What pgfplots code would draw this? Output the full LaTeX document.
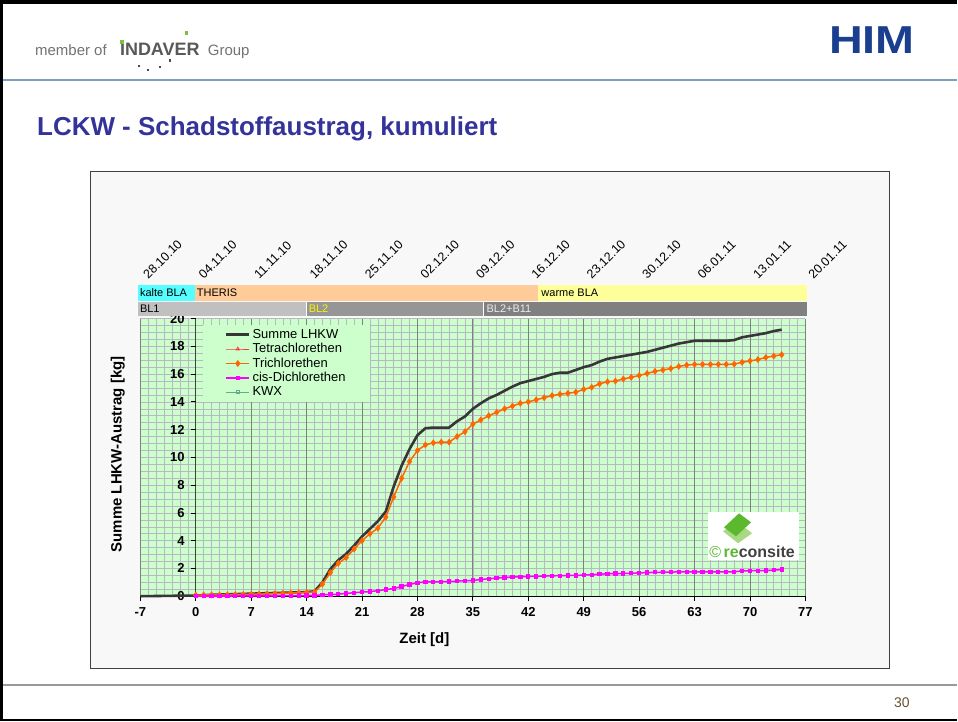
\documentclass[border=0pt]{standalone}
\usepackage{pgfplots}
\pgfplotsset{compat=1.18}
\usepackage{fontspec}
\setmainfont{Liberation Sans}
\definecolor{plotbg}{HTML}{CCFFCC}
\definecolor{gridminor}{HTML}{B8B8C4}
\definecolor{gridmajor}{HTML}{808080}
\definecolor{summe}{HTML}{363636}
\definecolor{tri}{HTML}{FF6600}
\definecolor{cis}{HTML}{FF00FF}
\definecolor{tetra}{HTML}{FF3333}
\definecolor{kwx}{HTML}{66AA88}
\definecolor{titleblue}{HTML}{333399}
\definecolor{himblue}{HTML}{1B3F8F}
\definecolor{topline}{HTML}{7F9FBF}
\definecolor{framebg}{HTML}{F8F8F8}
\definecolor{kalt}{HTML}{55FFFF}
\definecolor{theris}{HTML}{FFCC99}
\definecolor{warm}{HTML}{FFFF99}
\definecolor{blA}{HTML}{C0C0C0}
\definecolor{blB}{HTML}{969696}
\definecolor{blC}{HTML}{808080}
\definecolor{indgreen}{HTML}{7AC142}
\definecolor{recgreen}{HTML}{5CB82E}
\definecolor{recshadow}{HTML}{A8D880}
\definecolor{pagenum}{HTML}{6A5030}
\begin{document}
\begin{tikzpicture}[x=1pt,y=1pt]
% page
\path[fill=white] (0,0) rectangle (958,722);
\fill[black] (0,718) rectangle (958,722);
\fill[black] (0,0) rectangle (3,722);
\fill[black] (0,0) rectangle (958,2);
% header
\node[anchor=base west, inner sep=0, text=black!55, font=\fontsize{15}{15}\selectfont] at (35,666) {member of};
\node[anchor=base west, inner sep=0, text=black!65, font=\fontsize{18}{18}\selectfont\bfseries] at (120,666) {INDAVER};
\node[anchor=base west, inner sep=0, text=black!55, font=\fontsize{15}{15}\selectfont] at (208,666) {Group};
\fill[indgreen] (120.5,678) rectangle (124,681.5);
\fill[indgreen] (185,687) rectangle (188.5,690.5);
\fill[black!70] (138,655) rectangle (140,657);
\fill[black!70] (147,651) rectangle (149,653);
\fill[black!70] (159,654) rectangle (161,656);
\fill[black!70] (169,660) rectangle (171.5,662.5);
\node[inner sep=0, text=himblue, font=\fontsize{39}{39}\selectfont\bfseries, xscale=1.2] at (873,682) {HIM};
\draw[line width=2.5pt, topline] (3,642) -- (958,642);
% title
\node[anchor=base west, inner sep=0, text=titleblue, font=\fontsize{26}{26}\selectfont\bfseries] at (37,586) {LCKW - Schadstoffaustrag, kumuliert};
% footer
\draw[line width=1.5pt, black!40] (3,36) -- (958,36);
\node[inner sep=0, text=pagenum, font=\fontsize{14}{14}\selectfont] at (903,18) {30};
% chart frame
\draw[fill=framebg, draw=black!75] (90,53) rectangle (890,551);
% axis
\begin{axis}[
  at={(196pt,125pt)}, anchor=origin,
  scale only axis, width=666pt, height=278pt,
  xmin=-7, xmax=77, ymin=0, ymax=20,
  axis background/.style={fill=plotbg},
  xtick={-7,0,7,14,21,28,35,42,49,56,63,70,77},
  xticklabels={-7,0,7,14,21,28,35,42,49,56,63,70,77},
  ytick={0,2,4,6,8,10,12,14,16,18,20},
  yticklabels={0,2,4,6,8,10,12,14,16,18,20},
  minor x tick num=6, minor y tick num=3,
  grid=both,
  major grid style={gridminor, line width=0.6pt},
  minor grid style={gridminor, line width=0.6pt},
  axis x line*=bottom, axis y line*=left,
  x axis line style={black, line width=0.8pt, -},
  y axis line style={draw=none},
  tick align=outside, major tick length=5pt,
  xtick style={black, line width=0.8pt},
  ytick style={draw=none},
  minor tick length=0pt,
  ticklabel style={font=\fontsize{13}{13}\selectfont\bfseries},
  xticklabel style={inner sep=0pt, yshift=-6pt},
  yticklabel style={inner sep=0pt, anchor=east, xshift=49.5pt},
  xlabel={Zeit [d]},
  xlabel style={at={(axis description cs:0.427,-0.158)}, anchor=center, font=\fontsize{15}{15}\selectfont\bfseries},
  ylabel={Summe LHKW-Austrag [kg]},
  ylabel style={at={(axis description cs:-0.034,0.511)}, anchor=center, font=\fontsize{15}{15}\selectfont\bfseries},
  clip=false,
  legend cell align=left,
  legend style={at={(axis description cs:0.094,0.978)}, anchor=north west, fill=plotbg, draw=none,
    font=\fontsize{13}{13}\selectfont, inner xsep=22pt, inner ysep=3pt, row sep=0.6pt,
    nodes={inner ysep=1.5pt}},
  legend image code/.code={\draw[mark repeat=2, mark phase=2, #1] plot coordinates {(0pt,0pt) (11.5pt,0pt) (23pt,0pt)};},
]
% darker weekly verticals and y-axis at day 0
\pgfplotsinvokeforeach{-7,0,7,14,21,28,35,42,49,56,63,70,77}{
  \draw[gridmajor, line width=0.8pt] (axis cs:#1,0) -- (axis cs:#1,20);
}
\draw[black!75, line width=1pt] (axis cs:0,0) -- (axis cs:0,20);
\pgfplotsinvokeforeach{0,2,4,6,8,10,12,14,16,18,20}{
  \draw[black, line width=0.8pt] (axis cs:0,#1) -- ++(-5pt,0pt);
}
\addplot[summe, line width=2.6pt, no markers] coordinates {
(-7,0)(0,0.05)(2,0.1)(5,0.15)(8,0.2)(11,0.25)(14,0.3)(15,0.35)(16,1.0)(17,1.95)(18,2.6)(19,3.05)(20,3.65)(21,4.3)(22,4.85)(23,5.4)(24,6.1)(25,7.9)(26,9.4)(27,10.6)(28,11.6)(29,12.1)(30,12.15)(31,12.15)(32,12.15)(33,12.6)(34,12.95)(35,13.5)(36,13.9)(37,14.25)(38,14.5)(39,14.8)(40,15.1)(41,15.35)(42,15.5)(43,15.65)(44,15.8)(45,16.0)(46,16.1)(47,16.1)(48,16.3)(49,16.5)(50,16.65)(51,16.9)(52,17.1)(53,17.2)(54,17.3)(55,17.4)(56,17.5)(57,17.6)(58,17.75)(59,17.9)(60,18.05)(61,18.2)(62,18.3)(63,18.4)(67,18.4)(68,18.45)(69,18.65)(70,18.75)(71,18.85)(72,18.95)(73,19.1)(74,19.2)
};
\addlegendentry{Summe LHKW}
\addlegendimage{tetra, line width=0.8pt, mark=triangle, mark size=1.8pt, mark options={solid}}
\addlegendentry{Tetrachlorethen}
\addplot[tri, line width=1.5pt, mark=diamond*, mark size=2.3pt] coordinates {
(0,0.08)(1,0.09)(2,0.10)(3,0.10)(4,0.11)(5,0.12)(6,0.13)(7,0.14)(8,0.15)(9,0.17)(10,0.19)(11,0.21)(12,0.23)(13,0.25)(14,0.28)(15,0.30)(16,0.87)(17,1.70)(18,2.37)(19,2.78)(20,3.40)(21,4.00)(22,4.50)(23,4.90)(24,5.70)(25,7.15)(26,8.50)(27,9.70)(28,10.50)(29,10.90)(30,11.05)(31,11.10)(32,11.10)(33,11.50)(34,11.85)(35,12.40)(36,12.70)(37,13.00)(38,13.25)(39,13.50)(40,13.70)(41,13.90)(42,14.00)(43,14.15)(44,14.30)(45,14.45)(46,14.55)(47,14.62)(48,14.70)(49,14.90)(50,15.05)(51,15.30)(52,15.45)(53,15.50)(54,15.65)(55,15.77)(56,15.90)(57,16.05)(58,16.20)(59,16.30)(60,16.40)(61,16.55)(62,16.65)(63,16.70)(64,16.70)(65,16.70)(66,16.70)(67,16.70)(68,16.72)(69,16.85)(70,16.95)(71,17.05)(72,17.20)(73,17.30)(74,17.40)
};
\addlegendentry{Trichlorethen}
\addplot[cis, line width=1.5pt, mark=square*, mark size=1.4pt] coordinates {
(0,0.00)(1,0.00)(2,0.01)(3,0.01)(4,0.01)(5,0.02)(6,0.02)(7,0.02)(8,0.03)(9,0.03)(10,0.03)(11,0.04)(12,0.04)(13,0.05)(14,0.05)(15,0.06)(16,0.10)(17,0.12)(18,0.15)(19,0.20)(20,0.25)(21,0.30)(22,0.33)(23,0.40)(24,0.48)(25,0.55)(26,0.70)(27,0.85)(28,0.97)(29,1.03)(30,1.04)(31,1.04)(32,1.05)(33,1.09)(34,1.11)(35,1.14)(36,1.20)(37,1.26)(38,1.30)(39,1.35)(40,1.38)(41,1.40)(42,1.42)(43,1.43)(44,1.45)(45,1.47)(46,1.48)(47,1.49)(48,1.50)(49,1.52)(50,1.55)(51,1.58)(52,1.62)(53,1.63)(54,1.64)(55,1.66)(56,1.68)(57,1.70)(58,1.72)(59,1.73)(60,1.74)(61,1.75)(62,1.75)(63,1.75)(64,1.75)(65,1.75)(66,1.75)(67,1.75)(68,1.76)(69,1.82)(70,1.84)(71,1.84)(72,1.85)(73,1.88)(74,1.92)
};
\addlegendentry{cis-Dichlorethen}
\addlegendimage{kwx, line width=0.8pt, mark=square, mark size=1.5pt, mark options={solid}}
\addlegendentry{KWX}
\end{axis}
% phase bars
\fill[kalt] (138,421) rectangle (195,437);
\fill[theris] (195,421) rectangle (539,437);
\fill[warm] (539,421) rectangle (808,437);
\node[anchor=west, inner sep=0, font=\fontsize{11}{11}\selectfont] at (140,429) {kalte BLA};
\node[anchor=west, inner sep=0, font=\fontsize{11}{11}\selectfont] at (197,429) {THERIS};
\node[anchor=west, inner sep=0, font=\fontsize{11}{11}\selectfont] at (542,429) {warme BLA};
\fill[blA] (138,406) rectangle (307,420);
\fill[blB] (307,406) rectangle (484,420);
\fill[blC] (484,406) rectangle (808,420);
\draw[white, line width=0.6pt] (307,406) -- (307,420);
\draw[white, line width=0.6pt] (484,406) -- (484,420);
\node[anchor=west, inner sep=0, font=\fontsize{11}{11}\selectfont] at (140,413) {BL1};
\node[anchor=west, inner sep=0, text=yellow, font=\fontsize{11}{11}\selectfont] at (309,413) {BL2};
\node[anchor=west, inner sep=0, text=black!8, font=\fontsize{11}{11}\selectfont] at (487,413) {BL2+B11};
% date labels
\foreach \d/\t in {-7/28.10.10,0/04.11.10,7/11.11.10,14/18.11.10,21/25.11.10,28/02.12.10,35/09.12.10,42/16.12.10,49/23.12.10,56/30.12.10,63/06.01.11,70/13.01.11,77/20.01.11}{
  \node[rotate=45, anchor=base west, inner sep=0, font=\fontsize{12.5}{12.5}\selectfont] at ({140.5+7.93*(\d+7)+8},442) {\t};
}
% reconsite logo
\fill[white] (709,161) rectangle (800,209);
\fill[recshadow] (724,190) -- (739,178) -- (753,188) -- (738,200) -- cycle;
\fill[recgreen] (725,194) -- (740,208) -- (752,199) -- (737,185) -- cycle;
\node[anchor=base west, inner sep=0, font=\fontsize{16}{16}\selectfont\bfseries] at (710,164) {\textcolor{recgreen}{\normalfont\fontsize{16}{16}\selectfont ©}\,\textcolor{recgreen}{re}\textcolor{black!75}{consite}};
\end{tikzpicture}
\end{document}
